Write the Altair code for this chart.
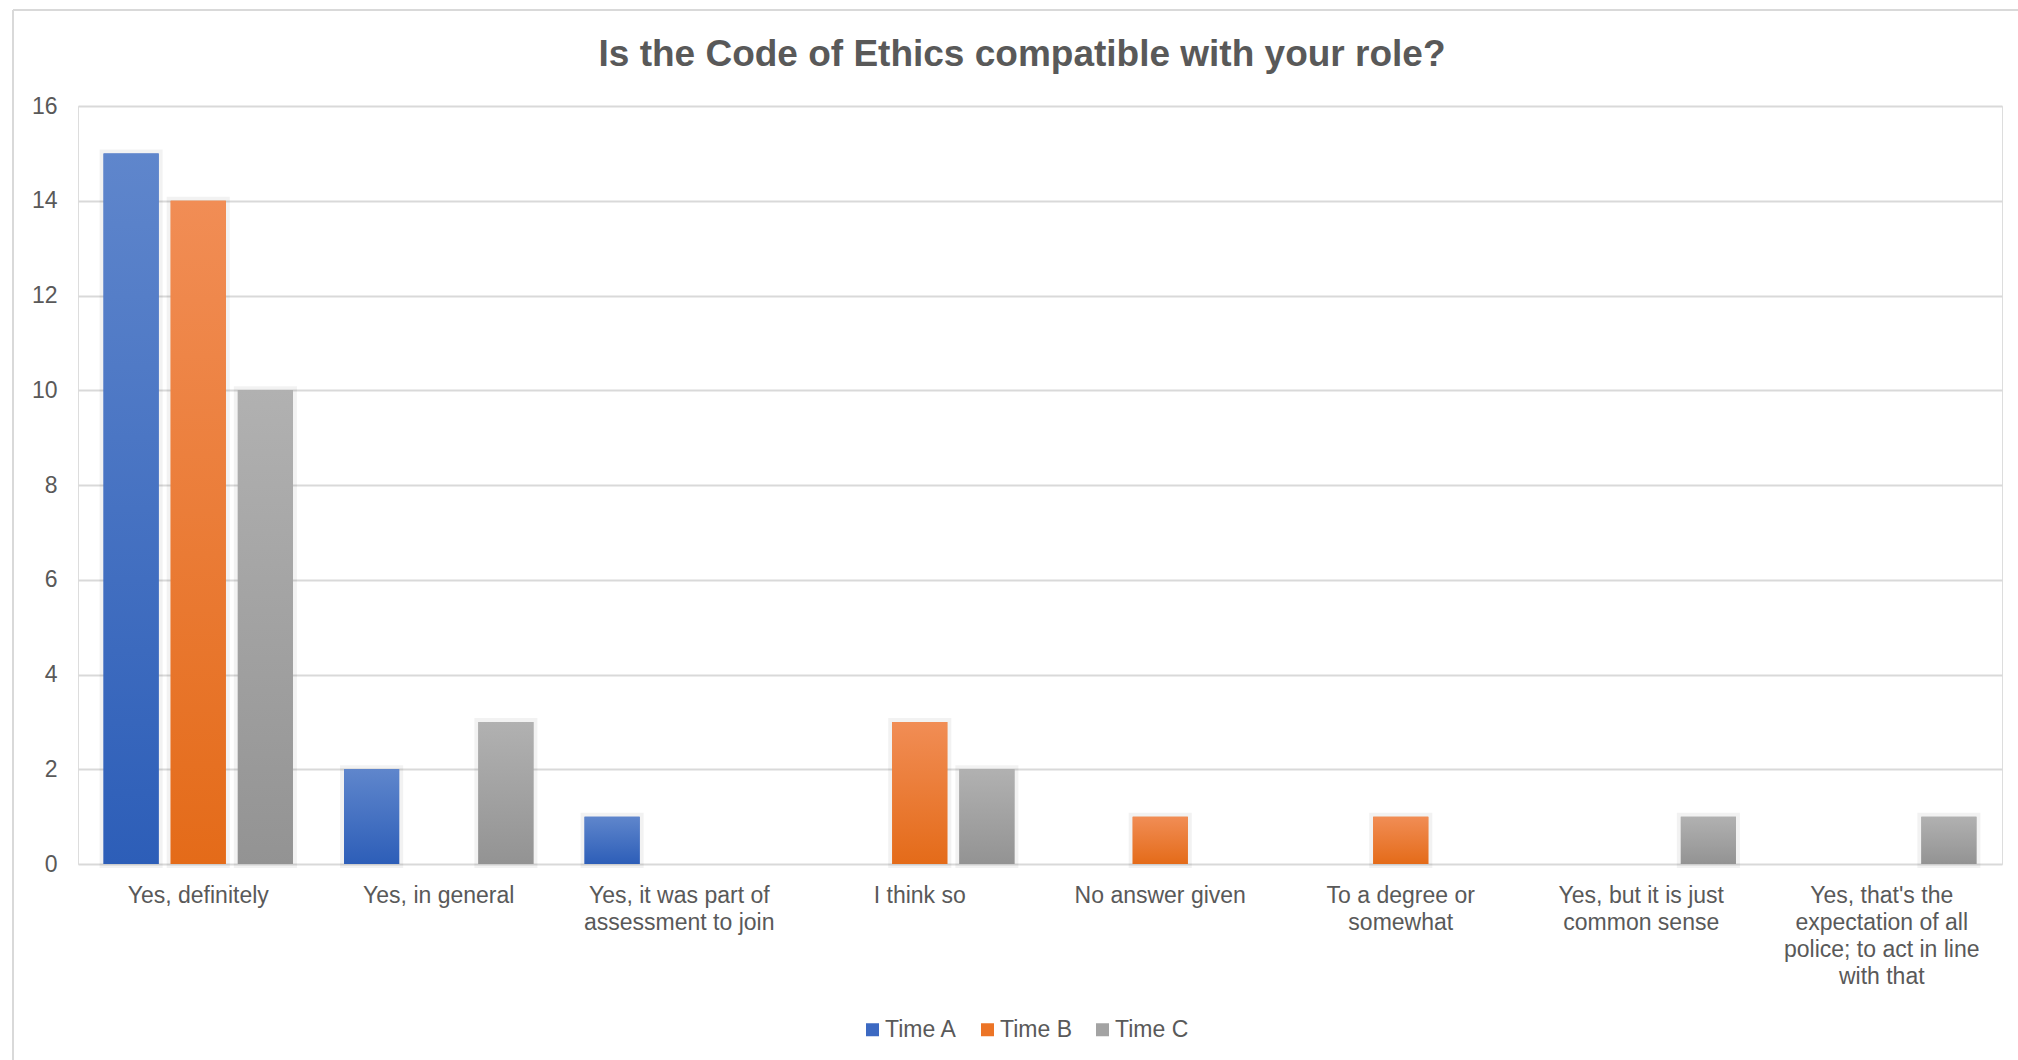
import altair as alt
import pandas as pd

# Answer categories (line breaks mark where the axis labels wrap)
categories = [
    "Yes, definitely",
    "Yes, in general",
    "Yes, it was part of\nassessment to join",
    "I think so",
    "No answer given",
    "To a degree or\nsomewhat",
    "Yes, but it is just\ncommon sense",
    "Yes, that's the\nexpectation of all\npolice; to act in line\nwith that",
]
series = ["Time A", "Time B", "Time C"]

# Number of responses per category at each time point
time_a = [15, 2, 1, 0, 0, 0, 0, 0]
time_b = [14, 0, 0, 3, 1, 1, 0, 0]
time_c = [10, 3, 0, 2, 0, 0, 1, 1]

y_ticks = [0, 2, 4, 6, 8, 10, 12, 14, 16]

legend_colors = ["#3C69C2", "#EC7426", "#A3A3A3"]
gradient_stops = {
    "Time A": ("#5F86CC", "#2D5EB8"),
    "Time B": ("#F18D55", "#E46B19"),
    "Time C": ("#B1B1B1", "#939393"),
}

FONT = "Liberation Sans"
TEXT = "#595959"

rows = []
for s, vals in zip(series, [time_a, time_b, time_c]):
    for c, v in zip(categories, vals):
        if v > 0:
            rows.append({"category": c, "series": s, "count": v})
df = pd.DataFrame(rows)


def gradient(top, bottom):
    return {
        "gradient": "linear",
        "x1": 0, "y1": 0, "x2": 0, "y2": 1,
        "stops": [{"offset": 0, "color": top}, {"offset": 1, "color": bottom}],
    }


x_enc = alt.X(
    "category:N",
    sort=categories,
    scale=alt.Scale(domain=categories, paddingInner=0.2125, paddingOuter=0.10625),
    axis=alt.Axis(
        title=None,
        labelAngle=0,
        labelExpr="split(datum.value, '\\n')",
        labelFontSize=23,
        labelFont=FONT,
        labelColor=TEXT,
        labelPadding=20,
        labelLineHeight=27,
        labelLimit=0,
        ticks=False,
        domain=False,
        grid=False,
    ),
)
xoff_enc = alt.XOffset(
    "series:N",
    sort=series,
    scale=alt.Scale(domain=series, paddingInner=0.179, paddingOuter=0),
)
y_enc = alt.Y(
    "count:Q",
    scale=alt.Scale(domain=[0, 16], nice=False),
    axis=alt.Axis(
        title=None,
        values=y_ticks,
        grid=True,
        gridColor="#D9D9D9",
        gridWidth=2,
        domain=False,
        ticks=False,
        labelFontSize=23,
        labelFont=FONT,
        labelColor=TEXT,
        labelPadding=21,
    ),
)

base = alt.Chart(df)

# soft halo behind the bars
shadow = base.mark_bar(
    fillOpacity=0, stroke="#000000", strokeOpacity=0.05, strokeWidth=8
).encode(x=x_enc, xOffset=xoff_enc, y=y_enc)

# solid bars that carry the legend
solid = base.mark_bar().encode(
    x=x_enc,
    xOffset=xoff_enc,
    y=y_enc,
    color=alt.Color(
        "series:N",
        sort=series,
        scale=alt.Scale(domain=series, range=legend_colors),
        legend=alt.Legend(
            title=None,
            orient="none",
            legendX=783,
            legendY=912,
            direction="horizontal",
            symbolType="square",
            symbolSize=169,
            symbolStrokeWidth=0,
            labelFontSize=23,
            labelFont=FONT,
            labelColor=TEXT,
            labelOffset=1,
            columnPadding=19,
        ),
    ),
)

# gradient-filled bars drawn on top
fill_rule = (
    alt.when(alt.datum.series == "Time A")
    .then(alt.value(gradient(*gradient_stops["Time A"])))
    .when(alt.datum.series == "Time B")
    .then(alt.value(gradient(*gradient_stops["Time B"])))
    .otherwise(alt.value(gradient(*gradient_stops["Time C"])))
)
shaded = base.mark_bar().encode(x=x_enc, xOffset=xoff_enc, y=y_enc, fill=fill_rule)

# thin outer frame along the top and left edges
frame_src = alt.Data(values=[{}])
frame_top = alt.Chart(frame_src).mark_rule(color="#D9D9D9", strokeWidth=2).encode(
    x=alt.value(-65), x2=alt.value(1940), y=alt.value(-96)
)
frame_left = alt.Chart(frame_src).mark_rule(color="#D9D9D9", strokeWidth=2).encode(
    x=alt.value(-65), y=alt.value(-96), y2=alt.value(954)
)

chart = (
    alt.layer(frame_top, frame_left, shadow, solid, shaded)
    .properties(
        width=1924,
        height=758,
        autosize=alt.AutoSizeParams(type="none"),
        padding={"left": 78, "top": 106, "right": 16, "bottom": 196},
        title=alt.TitleParams(
            text="Is the Code of Ethics compatible with your role?",
            font=FONT,
            fontSize=37,
            fontWeight="bold",
            color=TEXT,
            anchor="middle",
            frame="group",
            dx=-18,
            dy=87,
            offset=22,
        ),
    )
    .configure_view(stroke=None)
    .configure(background="#FFFFFF")
)

chart.save("out.html", embed_options={"renderer": "svg", "actions": False})
